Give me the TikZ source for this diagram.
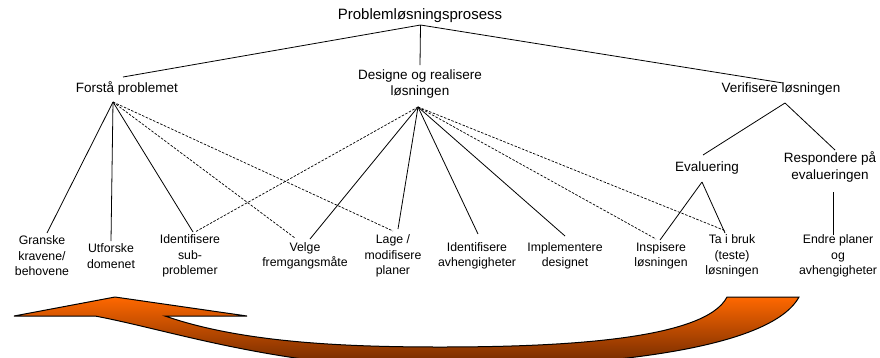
\documentclass[tikz,border=0pt]{standalone}
\usepackage{fontspec}
\setmainfont{Liberation Sans}
\begin{document}
\begin{tikzpicture}[x=1pt,y=-1pt,
  lbl/.style={inner sep=0pt, align=center, font=\fontsize{12.3}{15.5}\selectfont},
  midlbl/.style={inner sep=0pt, align=center, font=\fontsize{13.5}{16.5}\selectfont},
  titlelbl/.style={inner sep=0pt, font=\fontsize{15}{18}\selectfont},
  link/.style={draw=black, line width=0.8pt},
  dlink/.style={draw=black, line width=0.7pt, dash pattern=on 2.5pt off 1.5pt},
  arrowshape/.style={draw=black, line width=1pt, top color={rgb,255:red,255;green,104;blue,0}, bottom color={rgb,255:red,105;green,38;blue,0}},
]
\useasboundingbox (0,0) rectangle (880,357);

% text nodes
\node[titlelbl] (root) at (420,16) {Problemløsningsprosess};
\node[midlbl] (forsta) at (127,88) {Forstå problemet};
\node[midlbl] (designe) at (420,84) {Designe og realisere\\løsningen};
\node[midlbl] (verif) at (781,89) {Verifisere løsningen};
\node[midlbl] (evalu) at (707,168) {Evaluering};
\node[midlbl] (respond) at (830,167) {Respondere på\\evalueringen};

\node[lbl] (granske) at (42,256) {Granske\\kravene/\\behovene};
\node[lbl] (utforske) at (111,256) {Utforske\\domenet};
\node[lbl] (identsub) at (190,256) {Identifisere\\sub-\\problemer};
\node[lbl] (velge) at (305,256) {Velge\\fremgangsmåte};
\node[lbl] (lage) at (393,256) {Lage /\\modifisere\\planer};
\node[lbl] (identavh) at (477,256) {Identifisere\\avhengigheter};
\node[lbl] (impl) at (565,256) {Implementere\\designet};
\node[lbl] (insp) at (661,256) {Inspisere\\løsningen};
\node[lbl] (tabruk) at (732,256) {Ta i bruk\\(teste)\\løsningen};
\node[lbl] (endre) at (838,256) {Endre planer\\og\\avhengigheter};

% attachment points
\coordinate (root-b) at (420.5,25);
\coordinate (forsta-t) at (123,77);
\coordinate (forsta-b) at (113,102);
\coordinate (designe-t) at (420,65);
\coordinate (designe-b) at (418,107);
\coordinate (verif-t) at (783,83);
\coordinate (verif-b) at (785,103);
\coordinate (evalu-t) at (703,155);
\coordinate (evalu-b) at (702,182);
\coordinate (respond-t) at (835,150);
\coordinate (respond-b) at (833,192);

\coordinate (granske-t) at (47,233);
\coordinate (utforske-t) at (111,241);
\coordinate (identsub-t1) at (193,232);
\coordinate (identsub-t2) at (195,232);
\coordinate (velge-t1) at (295,238);
\coordinate (velge-t2) at (310,239);
\coordinate (lage-t1) at (393,231);
\coordinate (lage-t2) at (398,229);
\coordinate (identavh-t) at (478,234);
\coordinate (impl-t) at (565,236);
\coordinate (insp-t1) at (656,239);
\coordinate (insp-t2) at (660,240);
\coordinate (tabruk-t1) at (726,231);
\coordinate (tabruk-t2) at (725,233);
\coordinate (endre-t) at (833,235);

% top level
\draw[link] (root-b) -- (forsta-t);
\draw[link] (root-b) -- (designe-t);
\draw[link] (root-b) -- (verif-t);

% Forstaa problemet
\draw[link] (forsta-b) -- (granske-t);
\draw[link] (forsta-b) -- (utforske-t);
\draw[link] (forsta-b) -- (identsub-t1);
\draw[dlink] (forsta-b) -- (velge-t1);
\draw[dlink] (forsta-b) -- (lage-t1);

% Designe
\draw[dlink] (designe-b) -- (identsub-t2);
\draw[link] (designe-b) -- (velge-t2);
\draw[link] (designe-b) -- (lage-t2);
\draw[link] (designe-b) -- (identavh-t);
\draw[link] (designe-b) -- (impl-t);
\draw[dlink] (designe-b) -- (insp-t1);
\draw[dlink] (designe-b) -- (tabruk-t1);

% Verifisere
\draw[link] (verif-b) -- (evalu-t);
\draw[link] (verif-b) -- (respond-t);
\draw[link] (evalu-b) -- (insp-t2);
\draw[link] (evalu-b) -- (tabruk-t2);
\draw[link] (respond-b) -- (endre-t);

% curved return arrow
\begin{scope}
\clip (0,0) rectangle (880,357);
\path[arrowshape] (115,297) -- (247,316) -- (165,316)
  .. controls (240,342) and (340,347) .. (440,347)
  .. controls (560,347) and (705,340) .. (727,297)
  -- (799,297)
  .. controls (770,350) and (600,368) .. (430,368)
  .. controls (280,368) and (170,330) .. (95,316)
  -- (14,316) -- cycle;
\end{scope}
\end{tikzpicture}
\end{document}
